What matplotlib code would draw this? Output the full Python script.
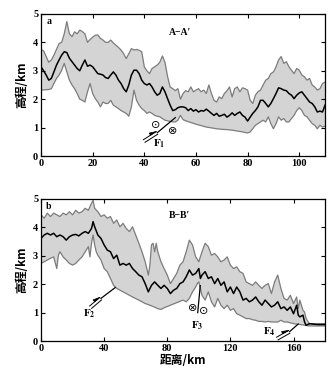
import numpy as np
import matplotlib.pyplot as plt
import matplotlib.transforms as mtransforms

plt.rcParams['font.family'] = ['Liberation Serif', 'DejaVu Sans']
plt.rcParams['mathtext.fontset'] = 'stix'

# profile A-A' (km, elevation km)
xa_up = [0, 1, 3, 4, 5, 7, 8, 9, 10, 11, 12, 13, 14, 15, 16, 17, 18, 19, 20, 21, 22, 23, 24, 25, 26, 27,
         28, 29, 30, 31, 32, 33, 34, 35, 36, 37, 38, 39, 40, 41, 42, 43, 44, 45, 46, 47, 48, 49, 50, 51,
         52, 53, 54, 55, 56, 57, 58, 59, 60, 61, 62, 63, 64, 65, 66, 67, 68, 69, 70, 71, 72, 73, 74, 75,
         76, 77, 78, 79, 80, 81, 82, 83, 84, 85, 86, 87, 88, 89, 90, 91, 92, 93, 94, 95, 96, 97, 98, 99,
         100, 101, 102, 103, 104, 105, 106, 107, 108, 109, 110]
ya_up = [3.75, 3.7, 3.3, 3.38, 3.55, 3.96, 4.0, 4.3, 4.73, 4.3, 4.2, 4.37, 4.3, 4.43, 4.38, 4.3, 4.0, 4.1,
         4.18, 4.25, 4.26, 4.14, 4.08, 4.0, 4.0, 4.08, 3.98, 3.9, 3.82, 3.73, 3.6, 3.43, 3.6, 3.78, 3.73,
         3.75, 3.72, 3.67, 3.14, 3.0, 2.9, 3.08, 3.14, 3.2, 3.3, 3.52, 3.3, 2.8, 2.43, 2.37, 2.3, 2.37, 2.0,
         2.2, 2.3, 2.26, 2.43, 2.26, 2.32, 2.37, 2.26, 2.32, 2.2, 2.5, 2.2, 1.96, 1.9, 2.08, 2.02, 2.2, 2.3,
         2.43, 2.08, 2.37, 2.43, 2.26, 2.4, 2.37, 2.32, 1.96, 1.85, 2.14, 2.26, 2.32, 2.5, 2.67, 2.73, 2.9,
         2.96, 3.14, 3.38, 3.5, 3.26, 3.32, 3.14, 3.02, 2.9, 3.08, 3.02, 2.85, 2.79, 2.67, 2.73, 2.5, 2.43,
         2.32, 2.37, 2.55, 2.6]
xa_mid = list(range(0, 111))
ya_mid = [3.14, 3.0, 2.85, 2.67, 2.73, 2.96, 3.2, 3.38, 3.55, 3.67, 3.64, 3.44, 3.32, 3.2, 3.08, 3.0, 3.2,
          3.38, 3.16, 3.2, 3.14, 3.02, 2.9, 2.88, 2.85, 2.76, 2.73, 2.85, 2.96, 2.85, 2.67, 2.55, 2.37,
          2.26, 2.5, 2.85, 3.02, 3.02, 2.9, 2.67, 2.55, 2.5, 2.55, 2.43, 2.26, 2.14, 2.2, 2.43, 2.26, 2.02,
          1.79, 1.6, 1.63, 1.7, 1.73, 1.73, 1.7, 1.6, 1.67, 1.58, 1.63, 1.55, 1.6, 1.58, 1.65, 1.58, 1.5,
          1.43, 1.5, 1.4, 1.43, 1.47, 1.37, 1.43, 1.52, 1.43, 1.5, 1.55, 1.43, 1.37, 1.23, 1.37, 1.5, 1.6,
          1.73, 1.96, 1.96, 1.85, 1.73, 1.85, 2.02, 2.2, 2.4, 2.37, 2.32, 2.3, 2.2, 2.14, 2.02, 2.14, 2.22,
          2.26, 2.14, 2.02, 1.9, 1.85, 1.73, 1.55, 1.58, 1.55, 1.79]
xa_lo = [0, 3, 4, 5, 6, 7, 8, 9, 10, 11, 12, 13, 14, 15, 16, 17, 18, 19, 20, 21, 22, 23, 24, 25, 26, 27,
         28, 29, 30, 31, 32, 33, 34, 35, 36, 37, 38, 39, 40, 41, 42, 43, 44, 45, 46, 47, 48, 49, 50, 51,
         52, 53, 54, 55, 56, 58, 60, 62, 64, 66, 68, 70, 72, 74, 76, 78, 80, 81, 82, 83, 84, 85, 86, 87,
         88, 89, 90, 91, 92, 93, 94, 95, 96, 97, 98, 99, 100, 101, 102, 103, 104, 105, 106, 107, 108,
         109, 110]
ya_lo = [2.32, 2.34, 2.37, 2.55, 2.73, 2.85, 3.02, 3.26, 2.96, 2.67, 2.5, 2.37, 2.2, 2.0, 1.96, 1.9, 2.26,
         2.55, 2.2, 2.02, 1.9, 1.73, 1.9, 1.85, 1.85, 1.96, 1.79, 1.73, 1.67, 1.6, 1.55, 1.5, 1.4, 1.73,
         2.32, 1.96, 1.79, 1.67, 1.6, 1.5, 1.55, 1.5, 1.43, 1.4, 1.38, 1.32, 1.26, 1.24, 1.22, 1.2, 1.2,
         1.26, 1.43, 1.28, 1.24, 1.18, 1.12, 1.07, 1.02, 0.99, 0.96, 0.94, 0.93, 0.91, 0.88, 0.85, 0.81,
         0.85, 0.96, 1.08, 1.14, 1.2, 1.26, 1.2, 1.38, 1.14, 0.96, 1.14, 1.38, 1.26, 1.32, 1.2, 1.2, 1.32,
         1.43, 1.6, 1.7, 1.6, 1.43, 1.38, 1.26, 1.14, 1.08, 0.96, 1.08, 1.02, 1.05]

# profile B-B'
xb_up = [0, 2, 4, 6, 8, 10, 12, 14, 16, 18, 20, 22, 24, 26, 28, 30, 32, 33, 34, 36, 38, 40, 42, 44, 46,
         48, 50, 52, 54, 56, 58, 60, 62, 64, 66, 68, 69, 70, 71, 72, 73, 74, 76, 78, 80, 82, 84, 86, 88,
         90, 92, 94, 96, 98, 100, 102, 104, 106, 108, 110, 112, 114, 116, 118, 120, 122, 124, 126, 128,
         130, 132, 134, 136, 138, 140, 142, 144, 146, 148, 150, 152, 154, 156, 158, 160, 162, 163, 164,
         166, 167, 168, 170, 172, 175, 180]
yb_up = [4.44, 4.32, 4.5, 4.38, 4.5, 4.44, 4.38, 4.5, 4.44, 4.55, 4.44, 4.6, 4.5, 4.55, 4.67, 4.6, 4.85,
         4.95, 4.67, 4.55, 4.38, 4.44, 4.32, 4.38, 4.14, 4.26, 4.02, 4.14, 3.96, 3.85, 4.02, 3.73, 3.44,
         3.14, 2.79, 2.32, 2.67, 3.38, 3.44, 3.14, 3.44, 3.14, 2.79, 2.55, 2.32, 2.02, 2.2, 2.38, 2.67,
         2.79, 3.14, 3.55, 3.38, 2.96, 2.79, 3.14, 3.44, 3.32, 3.02, 3.08, 2.96, 2.79, 2.85, 2.96, 2.67,
         2.55, 2.61, 2.44, 2.38, 2.08, 2.02, 1.96, 2.08, 1.96, 1.85, 1.96, 2.02, 1.67, 2.08, 2.32, 1.85,
         1.5, 1.44, 1.61, 1.32, 1.55, 1.14, 1.44, 1.08, 1.02, 0.79, 0.61, 0.61, 0.61, 0.61]
xb_mid = [0, 2, 4, 6, 8, 10, 12, 14, 16, 18, 20, 22, 24, 26, 28, 30, 32, 33, 34, 36, 38, 40, 42, 44, 46,
          48, 50, 52, 54, 56, 58, 60, 62, 64, 66, 68, 70, 72, 74, 76, 78, 80, 82, 84, 86, 88, 90, 92, 94,
          96, 98, 100, 101, 102, 104, 106, 108, 110, 112, 114, 116, 118, 120, 122, 124, 126, 128, 130,
          132, 134, 136, 138, 140, 142, 144, 146, 148, 150, 152, 154, 156, 158, 160, 162, 163, 164, 166,
          167, 168, 170, 175, 180]
yb_mid = [3.61, 3.73, 3.79, 3.73, 3.79, 3.67, 3.73, 3.67, 3.55, 3.67, 3.73, 3.75, 3.7, 3.79, 3.85, 3.79,
          3.96, 4.2, 4.02, 3.73, 3.61, 3.38, 3.2, 3.14, 2.9, 3.02, 2.67, 2.73, 2.67, 2.73, 2.55, 2.44, 2.32,
          2.26, 2.02, 1.73, 1.96, 2.08, 1.96, 1.85, 1.96, 1.85, 1.67, 1.79, 1.85, 2.02, 2.08, 2.26, 2.5,
          2.32, 2.38, 2.55, 2.2, 2.32, 2.44, 2.2, 2.26, 2.02, 2.2, 1.96, 2.08, 1.73, 1.9, 1.67, 1.9, 1.73,
          1.44, 1.5, 1.38, 1.44, 1.55, 1.38, 1.26, 1.44, 1.32, 1.2, 1.26, 1.38, 1.14, 1.2, 1.08, 1.2, 0.96,
          1.26, 0.91, 0.85, 0.91, 0.67, 0.55, 0.61, 0.58, 0.58]
xb_lo = [0, 2, 4, 6, 8, 10, 11, 12, 14, 16, 18, 20, 22, 24, 26, 28, 30, 31, 32, 33, 34, 35, 36, 38, 40,
         42, 44, 46, 48, 50, 54, 58, 62, 66, 70, 74, 76, 78, 82, 86, 90, 92, 94, 96, 98, 99, 100, 101, 102,
         104, 106, 108, 110, 112, 114, 116, 118, 120, 122, 124, 126, 128, 130, 132, 134, 136, 138, 140,
         142, 144, 146, 148, 150, 152, 154, 156, 160, 164, 168, 170, 175, 180]
yb_lo = [2.73, 2.79, 2.85, 2.91, 2.96, 2.55, 3.02, 3.14, 2.96, 2.85, 2.73, 2.67, 2.73, 2.85, 2.96, 3.14,
         3.32, 2.96, 3.44, 3.73, 3.38, 3.14, 3.02, 2.85, 2.55, 2.44, 2.2, 1.96, 1.85, 1.79, 1.67, 1.55,
         1.44, 1.32, 1.24, 1.14, 1.11, 1.17, 1.26, 1.35, 1.44, 1.38, 1.5, 1.73, 1.9, 2.02, 2.08, 1.85, 1.61,
         1.44, 1.73, 1.38, 1.2, 1.5, 1.26, 1.14, 1.26, 1.08, 1.14, 0.96, 0.91, 0.85, 0.79, 0.79, 0.75,
         0.73, 0.69, 0.69, 0.67, 0.69, 0.67, 0.67, 0.67, 0.73, 0.67, 0.67, 0.61, 0.58, 0.55, 0.53, 0.53,
         0.53]

fill_c = '#d4d4d4'
edge_c = '#7c7c7c'
cjk = ['Noto Sans CJK SC', 'DejaVu Sans']


def profile(ax, xu, yu, xm, ym, xl, yl):
    # shaded band between the max and min envelopes
    band_x = list(xu) + list(xl)[::-1]
    band_y = list(yu) + list(yl)[::-1]
    ax.fill(band_x, band_y, color=fill_c, lw=0, zorder=1)
    ax.plot(xu, yu, color=edge_c, lw=0.9, zorder=2)
    ax.plot(xl, yl, color=edge_c, lw=0.9, zorder=2)
    ax.plot(xm, ym, color='black', lw=1.1, zorder=3)


def fault(ax, p0, p1, p2):
    # thrust symbol: double line with half arrow, then single fault trace
    fig = ax.figure
    d0 = ax.transData.transform(p0)
    d1 = ax.transData.transform(p1)
    v = (d1 - d0) / np.hypot(*(d1 - d0))
    n = np.array([-v[1], v[0]])
    for s in (-1.1, 1.1):
        tr = mtransforms.offset_copy(ax.transData, fig=fig, x=n[0] * s, y=n[1] * s, units='points')
        ax.plot([p0[0], p1[0]], [p0[1], p1[1]], color='black', lw=0.7, transform=tr, zorder=4,
                solid_capstyle='butt')
    # small half arrowhead sitting on the upper line
    tip = d1 + n * 1.5
    tri = np.array([tip, tip - v * 7, tip - v * 7 + n * 2.5])
    tri_d = ax.transData.inverted().transform(tri)
    ax.fill(tri_d[:, 0], tri_d[:, 1], color='black', lw=0.5, zorder=4)
    ax.plot([p1[0], p2[0]], [p1[1], p2[1]], color='black', lw=0.9, zorder=4)


fig = plt.figure(figsize=(3.35, 3.76), dpi=100)
ax1 = fig.add_axes([0.1224, 0.585, 0.848, 0.378])
ax2 = fig.add_axes([0.1224, 0.093, 0.848, 0.378])

profile(ax1, xa_up, ya_up, xa_mid, ya_mid, xa_lo, ya_lo)
profile(ax2, xb_up, yb_up, xb_mid, yb_mid, xb_lo, yb_lo)

ax1.set_xlim(0, 110)
ax1.set_xticks([0, 20, 40, 60, 80, 100])
ax2.set_xlim(0, 180)
ax2.set_xticks([0, 40, 80, 120, 160])

for ax in (ax1, ax2):
    ax.set_ylim(0, 5)
    ax.set_yticks([0, 1, 2, 3, 4, 5])
    ax.tick_params(direction='in', top=True, right=True, length=3, width=0.8,
                   labelsize=7.5, pad=2)
    for lab in ax.get_xticklabels() + ax.get_yticklabels():
        lab.set_fontweight('bold')
    for sp in ax.spines.values():
        sp.set_linewidth(0.9)
    ax.set_ylabel('高程/km', family=cjk, fontsize=8.5, fontweight='bold', labelpad=3)

ax2.set_xlabel('距离/km', family=cjk, fontsize=8.5, fontweight='bold', labelpad=1)

ax1.text(2, 4.72, 'a', fontsize=7, fontweight='bold', va='center')
ax1.text(54, 4.33, 'A−A′', fontsize=7, fontweight='bold', ha='center', va='center')
ax2.text(3, 4.72, 'b', fontsize=7, fontweight='bold', va='center')
ax2.text(88, 4.43, 'B−B′', fontsize=7, fontweight='bold', ha='center', va='center')

# faults on A-A'
fault(ax1, (39.8, 0.52), (45.0, 0.82), (52.0, 1.35))
ax1.text(45.8, 0.42, r'$\mathbf{F_1}$', fontsize=8, ha='center', va='center')
ax1.text(44.6, 1.08, '⊙', family='DejaVu Sans', fontsize=8, ha='center', va='center')
ax1.text(50.8, 0.88, '⊗', family='DejaVu Sans', fontsize=8, ha='center', va='center')

# faults on B-B'
fault(ax2, (31.2, 1.18), (38.0, 1.5), (47.0, 1.88))
ax2.text(30.5, 0.95, r'$\mathbf{F_2}$', fontsize=8, ha='center', va='center')
ax2.plot([100.9, 99.3], [1.95, 1.0], color='black', lw=0.9, zorder=4)
ax2.text(96.0, 1.16, '⊗', family='DejaVu Sans', fontsize=8, ha='center', va='center')
ax2.text(103.0, 1.05, '⊙', family='DejaVu Sans', fontsize=8, ha='center', va='center')
ax2.text(99.0, 0.55, r'$\mathbf{F_3}$', fontsize=8, ha='center', va='center')
fault(ax2, (149.5, 0.08), (157.5, 0.33), (163.0, 0.6))
ax2.text(145.0, 0.33, r'$\mathbf{F_4}$', fontsize=8, ha='center', va='center')

fig.savefig('out.png', dpi=100)
